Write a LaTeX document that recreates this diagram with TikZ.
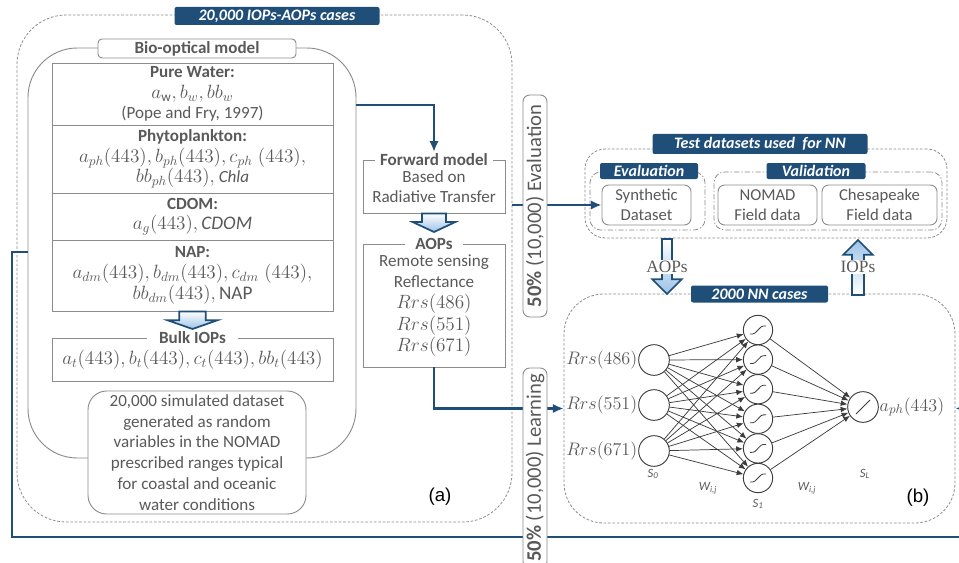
\RequirePackage{fix-cm}
\documentclass[tikz,border=0pt]{standalone}
\usepackage{fontspec}
\setmainfont{Carlito}
\newfontfamily\labfont{Liberation Sans}
\newfontfamily\serfont{Liberation Serif}
\usetikzlibrary{arrows.meta,calc,positioning}

\definecolor{navy}{RGB}{31,78,121}
\definecolor{txtgray}{RGB}{89,89,89}
\definecolor{linegray}{RGB}{140,140,140}
\definecolor{netgray}{RGB}{60,60,60}
\definecolor{midblue}{RGB}{157,195,230}

\newcommand{\fmain}{\fontsize{12.8}{15.5}\selectfont}
\newcommand{\mth}[1]{{\fontsize{14.4}{15.5}\selectfont$#1$}}

% block arrow: [options] {from} {to} {shaft half width} {head half width} {head length}
\newcommand{\hollowarrow}[6][]{%
  \path[hollow,#1] let \p1=#2, \p2=#3, \p3=($#3!#6!#2$) in
    (\x1-#4,\y1) -- (\x1+#4,\y1) -- (\x1+#4,\y3) -- (\x1+#5,\y3) -- (\x2,\y2)
    -- (\x1-#5,\y3) -- (\x1-#4,\y3) -- cycle;}

\begin{document}
\begin{tikzpicture}[x=0.75pt, y=-0.75pt,
    every node/.style={text=txtgray, font=\fmain},
    flow/.style={draw=navy, line width=2.2pt, -{Latex[length=8pt,width=7pt]}},
    fback/.style={draw=navy, line width=2.2pt},
    hollow/.style={draw=navy, line width=1.3pt, top color=white, bottom color=midblue},
    banner/.style={fill=navy, text=white, rounded corners=1.5pt, inner sep=0pt,
                   font=\fontsize{12}{14}\selectfont\bfseries\itshape},
    cell/.style={draw=linegray, line width=0.7pt, minimum width=210.75pt, inner sep=0pt, align=center},
    opentitle/.style={fill=white, inner ysep=1pt, font=\fmain\bfseries},
    dashbox/.style={draw=linegray, line width=0.6pt, dash pattern=on 2pt off 1.3pt},
    dotbox/.style={draw=linegray, line width=0.6pt, rounded corners=8pt,
                   dash pattern=on 4pt off 1.5pt on 1pt off 1.5pt},
    softbox/.style={draw=linegray, line width=0.7pt, fill=white, rounded corners=5pt,
                    align=center, inner sep=0pt},
    bar/.style={softbox, rotate=90, minimum height=18pt, font=\fontsize{15.5}{17}\selectfont},
    neuron/.style={circle, draw=netgray, line width=0.7pt, fill=white, inner sep=0pt},
    syn/.style={draw=netgray, line width=0.55pt, -{Latex[length=5pt,width=4.2pt]}},
    mlab/.style={inner sep=0.5pt, font=\fontsize{13.6}{15}\selectfont},
    slab/.style={font=\fontsize{9.5}{11}\selectfont\itshape},
  ]
  \useasboundingbox (0,0) rectangle (959,563);
  \clip (0,0) rectangle (959,563);

  % left part (a)
  \node[dashbox, rounded corners=37pt, minimum width=371.25pt, minimum height=380.25pt] (iopsbox) at (264.5,268.5) {};
  \node[draw=linegray, line width=0.7pt, rounded corners=37pt, minimum width=246pt, minimum height=307.5pt] (biobox) at (192,253) {};

  \node[cell, minimum height=46.5pt] (water) at (192.5,94)
    {\textbf{Pure Water:}\\\mth{a_{\mathrm{w}}, b_w, bb_w}\\(Pope and Fry, 1997)};
  \node[cell, minimum height=51pt] (phyto) at (192.5,159)
    {\textbf{Phytoplankton:}\\\mth{a_{ph}(443), b_{ph}(443), c_{ph}\;(443),}\\\mth{bb_{ph}(443),} \textit{Chla}};
  \node[cell, minimum height=35.25pt] (cdom) at (192.5,216.5)
    {\textbf{CDOM:}\\\mth{a_g(443), \mathit{CDOM}}};
  \node[cell, minimum height=53.25pt] (nap) at (192.5,275.5)
    {\textbf{NAP:}\\\mth{a_{dm}(443), b_{dm}(443), c_{dm}\;(443),}\\\mth{bb_{dm}(443), \mathrm{NAP}}};
  \node[cell, minimum height=32.25pt] (bulk) at (192.5,359.5)
    {\mth{a_t(443), b_t(443), c_t(443), bb_t(443)}};
  \node[opentitle, inner xsep=9pt] (bulktitle) at (bulk.north) {Bulk IOPs};

  \node[softbox, rounded corners=3pt, minimum width=148.5pt, minimum height=14.25pt,
        font=\fmain\bfseries] (biotitle) at (197,48.5) {Bio-optical model};
  \node[softbox, rounded corners=14pt, minimum width=163.5pt, minimum height=92.25pt,
        font=\fontsize{12.8}{15.6}\selectfont] (simbox) at (197,452.5)
    {20,000 simulated dataset\\generated as random\\variables in the NOMAD\\prescribed ranges typical\\for coastal and oceanic\\water conditions};
  \node[banner, minimum width=153.75pt, minimum height=13.5pt] (iopstitle) at (277,16) {20,000 IOPs-AOPs cases};

  \node[draw=linegray, line width=0.7pt, minimum width=106.5pt, minimum height=39.75pt,
        align=center, inner sep=0pt] (fwd) at (434,186.5) {Based on\\Radiative Transfer};
  \node[opentitle, inner xsep=4pt] (fwdtitle) at (fwd.north) {Forward model};
  \node[draw=linegray, line width=0.7pt, minimum width=106.5pt, minimum height=92.25pt,
        align=center, inner sep=0pt, font=\fontsize{12.8}{15.8}\selectfont] (aops) at (434,305.5)
    {Remote sensing\\Reflectance\\\mth{Rrs(486)}\\\mth{Rrs(551)}\\\mth{Rrs(671)}};
  \node[opentitle, inner xsep=8pt] (aopstitle) at (aops.north) {AOPs};

  \node[font={\labfont\fontsize{14}{16}\selectfont}, text=black] (lbla) at (440,497) {(a)};

  % test datasets
  \node[dashbox, rounded corners=15pt, minimum width=271.5pt, minimum height=66.75pt] (testbox) at (766,193.5) {};
  \node[dotbox, minimum width=86.25pt, minimum height=43.5pt] (evalsub) at (647.5,201) {};
  \node[dotbox, minimum width=171pt, minimum height=43.5pt] (valsub) at (828,201) {};
  \node[softbox, minimum width=66.75pt, minimum height=30pt, font=\fontsize{12.5}{15}\selectfont] (synth) at (646.5,205) {Synthetic\\Dataset};
  \node[softbox, minimum width=74.25pt, minimum height=30pt, font=\fontsize{12.5}{15}\selectfont] (nomad) at (767.5,205) {NOMAD\\Field data};
  \node[softbox, minimum width=86.25pt, minimum height=30pt, font=\fontsize{12.5}{15}\selectfont] (chesa) at (879.5,205) {Chesapeake\\Field data};
  \node[banner, minimum width=161.25pt, minimum height=15pt] (testtitle) at (760,144) {Test datasets used\ \ for NN};
  \node[banner, minimum width=73.5pt, minimum height=12pt] (evaltitle) at (649,171) {Evaluation};
  \node[banner, minimum width=74.25pt, minimum height=12pt] (valtitle) at (816,171) {Validation};

  % network (b)
  \node[dashbox, rounded corners=30pt, minimum width=293.25pt, minimum height=171.75pt] (nnbox) at (759.5,408.5) {};
  \node[banner, minimum width=102.75pt, minimum height=12.75pt] (nntitle) at (759.5,294) {2000 NN cases};

  \foreach \i/\yy in {1/360,2/405,3/451}
    \node[neuron, minimum size=23pt] (in\i) at (654,\yy) {};
  \foreach \k in {1,...,6}
    \node[neuron, minimum size=22pt] (hid\k) at (758,{300.4+29.6*\k}) {};
  \node[neuron, minimum size=23pt] (out) at (863,407) {};

  \node[mlab, left=0pt of in1] (rrs1) {$Rrs(486)$};
  \node[mlab, left=0pt of in2] (rrs2) {$Rrs(551)$};
  \node[mlab, left=0pt of in3] (rrs3) {$Rrs(671)$};
  \node[mlab, right=0pt of out] (aph) {$a_{ph}(443)$};

  \foreach \i in {1,2,3}
    \foreach \k in {1,...,6}
      \draw[syn] (in\i) -- (hid\k);
  \foreach \k in {1,...,6}
    \draw[syn] (hid\k) -- (out);
  \foreach \k in {1,...,6}
    \draw[netgray, line width=0.6pt] ($(hid\k)+(-8,4)$) .. controls ($(hid\k)+(1,5)$) and ($(hid\k)+(-1,-5)$) .. ($(hid\k)+(8,-4)$);
  \draw[netgray, line width=0.7pt] ($(out)+(-7,7)$) -- ($(out)+(7,-7)$);

  \node[slab] (s0) at (653,474) {S\textsubscript{0}};
  \node[slab] (w1) at (708,488) {W\textsubscript{i,j}};
  \node[slab] (s1) at (758,504) {S\textsubscript{1}};
  \node[slab] (w2) at (807,488) {W\textsubscript{i,j}};
  \node[slab] (sl) at (865,474) {S\textsubscript{L}};
  \node[font={\labfont\fontsize{14}{16}\selectfont}, text=black] (lblb) at (918,498) {(b)};

  % hollow arrows
  \coordinate (fa) at (434,232);
  \coordinate (nb) at (192.5,329);
  \coordinate (aopA) at (667,239);
  \coordinate (aopB) at (667,294);
  \coordinate (iopA) at (858,295);
  \coordinate (iopB) at (858,240);
  \hollowarrow{(fwd.south)}{(fa)}{9pt}{16pt}{7.5pt}
  \hollowarrow{(nap.south)}{(nb)}{10pt}{18.5pt}{6.5pt}
  \hollowarrow{(aopA)}{(aopB)}{3.75pt}{11pt}{11pt}
  \hollowarrow[top color=midblue, bottom color=white]{(iopA)}{(iopB)}{4.5pt}{11pt}{11pt}
  \node[fill=white, inner sep=1pt, font=\serfont\fontsize{13}{15}\selectfont] (aoplbl) at (667,267) {AOPs};
  \node[fill=white, inner sep=1pt, font=\serfont\fontsize{13}{15}\selectfont] (ioplbl) at (858,267) {IOPs};

  % blue connectors
  \coordinate (rin) at (985,408);
  \coordinate (fbend) at (985,537);
  \coordinate (fbcorner) at (12,537);
  \draw[flow] (biobox.east |- 0,105) -| (fwdtitle.north);
  \draw[flow] (iopsbox.east |- synth.west) -- (synth.west);
  \draw[flow] (aops.south) |- (nnbox.west);
  \draw[flow] (rin) -- (nnbox.east);
  \draw[fback] (fbend) -- (fbcorner) |- (biobox.west |- 0,252);

  \node[bar, minimum width=166.5pt] (evalbar) at (535,206) {\textbf{50\%} (10,000) Evaluation};
  \node[bar, minimum width=150pt] (learnbar) at (535,468) {\textbf{50\%} (10,000) Learning};
\end{tikzpicture}
\end{document}
